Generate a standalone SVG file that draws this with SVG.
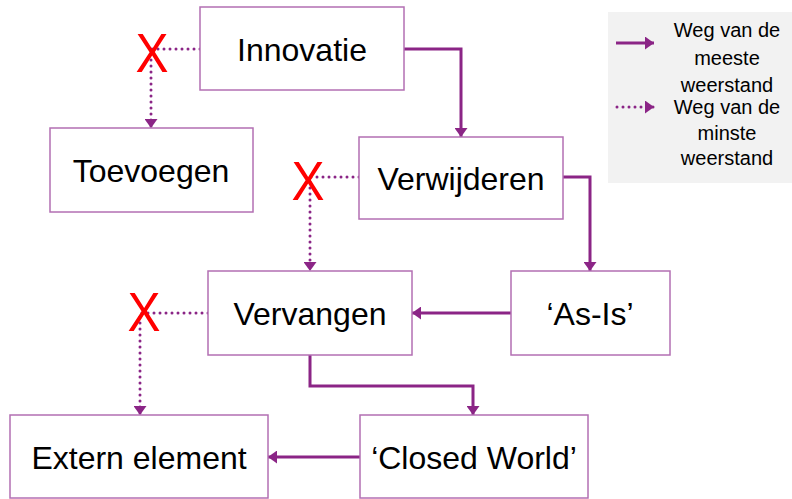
<svg xmlns="http://www.w3.org/2000/svg" width="792" height="499" viewBox="0 0 792 499">
<defs>
<style>
.box{fill:#ffffff;stroke:#b36fb3;stroke-width:1.5}
.lbl{font-family:"Liberation Sans",Arial,sans-serif;font-size:32px;fill:#000;text-anchor:middle}
.leg{font-family:"Liberation Sans",Arial,sans-serif;font-size:20px;fill:#000;text-anchor:middle}
.solid{fill:none;stroke:#8b2586;stroke-width:3}
.dot{fill:none;stroke:#8b2586;stroke-width:3;stroke-dasharray:0 6;stroke-linecap:round}
.x{font-family:"Liberation Sans",Arial,sans-serif;font-size:56px;fill:#ff0000;text-anchor:middle}
</style>
<marker id="ah" viewBox="0 0 9 13" refX="9" refY="6.5" markerWidth="9" markerHeight="13" orient="auto" markerUnits="userSpaceOnUse">
<path d="M0,0 L9,6.5 L0,13 z" fill="#8b2586"/>
</marker>
</defs>
<rect x="0" y="0" width="792" height="499" fill="#ffffff"/>
<g id="legend">
<rect x="608" y="12" width="184" height="171" fill="#f2f2f2"/>
<line class="solid" x1="616" y1="43" x2="654" y2="43" marker-end="url(#ah)"/>
<line class="dot" x1="617" y1="107" x2="654" y2="107" marker-end="url(#ah)"/>
<text class="leg" x="727" y="37">Weg van de</text>
<text class="leg" x="727" y="65">meeste</text>
<text class="leg" x="727" y="92">weerstand</text>
<text class="leg" x="727" y="114">Weg van de</text>
<text class="leg" x="727" y="140">minste</text>
<text class="leg" x="727" y="165">weerstand</text>
</g>
<g id="connectors">
<polyline class="solid" points="404,49 461,49 461,137" marker-end="url(#ah)"/>
<polyline class="solid" points="563,177 590,177 590,271" marker-end="url(#ah)"/>
<line class="solid" x1="511" y1="313" x2="412" y2="313" marker-end="url(#ah)"/>
<polyline class="solid" points="310,355 310,386 473,386 473,415" marker-end="url(#ah)"/>
<line class="solid" x1="360" y1="457" x2="268" y2="457" marker-end="url(#ah)"/>
<polyline class="dot" points="200,49 151,49 151,128" marker-end="url(#ah)"/>
<polyline class="dot" points="359,177 310,177 310,271" marker-end="url(#ah)"/>
<polyline class="dot" points="208,313 140,313 140,415" marker-end="url(#ah)"/>
</g>
<g id="innovatie"><rect class="box" x="200" y="7" width="204" height="83"/><text class="lbl" x="302" y="61">Innovatie</text></g>
<g id="toevoegen"><rect class="box" x="50" y="128" width="203" height="84"/><text class="lbl" x="151" y="182">Toevoegen</text></g>
<g id="verwijderen"><rect class="box" x="359" y="137" width="204" height="82"/><text class="lbl" x="461" y="190">Verwijderen</text></g>
<g id="asis"><rect class="box" x="511" y="271" width="159" height="84"/><text class="lbl" x="590" y="325">‘As-Is’</text></g>
<g id="vervangen"><rect class="box" x="208" y="271" width="204" height="84"/><text class="lbl" x="310" y="325">Vervangen</text></g>
<g id="extern"><rect class="box" x="10" y="415" width="258" height="83"/><text class="lbl" x="139" y="469">Extern element</text></g>
<g id="closedworld"><rect class="box" x="360" y="415" width="228" height="83"/><text class="lbl" x="474" y="469">‘Closed World’</text></g>
<g id="crosses">
<text class="x" x="152" y="72" textLength="33" lengthAdjust="spacingAndGlyphs">X</text>
<text class="x" x="308" y="200" textLength="33" lengthAdjust="spacingAndGlyphs">X</text>
<text class="x" x="144" y="331" textLength="33" lengthAdjust="spacingAndGlyphs">X</text>
</g>
</svg>
